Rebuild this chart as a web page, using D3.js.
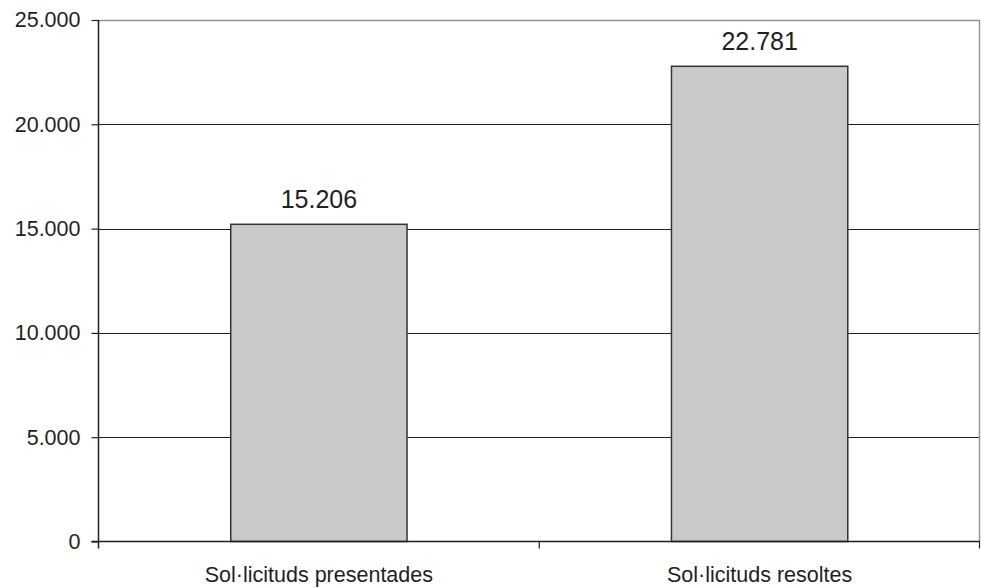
<!DOCTYPE html>
<html>
<head>
<meta charset="utf-8">
<script src="https://cdn.jsdelivr.net/npm/d3@7"></script>
<style>
  html, body { margin: 0; padding: 0; background: #fff; }
  svg { display: block; }
  text { font-family: "Liberation Sans", Arial, sans-serif; fill: #231f20; }
</style>
</head>
<body>
<svg id="chart" width="981" height="588"></svg>
<script>
const categories = ["Sol·licituds presentades", "Sol·licituds resoltes"];
const values = [15206, 22781];
const valueLabels = ["15.206", "22.781"];
const yTicks = [0, 5000, 10000, 15000, 20000, 25000];
const yTickLabels = ["0", "5.000", "10.000", "15.000", "20.000", "25.000"];

(function () {
const svg = d3.select("#chart");
const pLeft = 98.5, pRight = 980, pTop = 20, pBottom = 541.5;

const x = d3.scaleBand().domain(categories).range([pLeft, pRight]).paddingInner(0.6).paddingOuter(0.3);
const y = d3.scaleLinear().domain([0, 25000]).range([pBottom, pTop]);

// gridlines
svg.append("g").selectAll("line").data(yTicks.filter(t => t > 0))
  .join("line")
  .attr("x1", pLeft).attr("x2", pRight)
  .attr("y1", d => Math.round(y(d)) + 0.5).attr("y2", d => Math.round(y(d)) + 0.5)
  .attr("stroke", d => d === 25000 ? "#929497" : "#231f20")
  .attr("stroke-width", d => d === 25000 ? 1.5 : 1);

// right border
svg.append("line")
  .attr("x1", pRight - 0.5).attr("x2", pRight - 0.5)
  .attr("y1", y(25000)).attr("y2", pBottom)
  .attr("stroke", "#929497").attr("stroke-width", 1.5);

// bars
svg.append("g").selectAll("rect").data(values)
  .join("rect")
  .attr("x", (d, i) => x(categories[i]))
  .attr("width", x.bandwidth())
  .attr("y", d => y(d))
  .attr("height", d => pBottom - y(d))
  .attr("fill", "#c8c9cb")
  .attr("stroke", "#333")
  .attr("stroke-width", 1.5);

// value labels
svg.append("g").selectAll("text").data(values)
  .join("text")
  .attr("x", (d, i) => x(categories[i]) + x.bandwidth() / 2)
  .attr("y", d => y(d) - 16)
  .attr("text-anchor", "middle")
  .attr("font-size", 25)
  .text((d, i) => valueLabels[i]);

// y axis
const yAxis = d3.axisLeft(y).tickValues(yTicks)
  .tickFormat((d, i) => yTickLabels[i]).tickSize(7).tickPadding(11);
const gy = svg.append("g").attr("transform", `translate(${pLeft},0)`).call(yAxis);
gy.select(".domain").remove();
gy.selectAll(".tick line").attr("stroke", "#231f20").attr("stroke-width", 1.2);
gy.selectAll(".tick text").attr("font-size", 21.5).attr("font-family", "Liberation Sans, Arial, sans-serif").attr("fill", "#231f20");
svg.append("line").attr("x1", pLeft).attr("x2", pLeft).attr("y1", pTop).attr("y2", pBottom + 7)
  .attr("stroke", "#231f20").attr("stroke-width", 1.5);

// x axis
svg.append("line").attr("x1", pLeft - 7).attr("x2", pRight).attr("y1", pBottom).attr("y2", pBottom)
  .attr("stroke", "#231f20").attr("stroke-width", 1.5);
const mid = (x(categories[0]) + x.bandwidth() + x(categories[1])) / 2;
[mid, pRight - 0.5].forEach(px => {
  svg.append("line").attr("x1", px).attr("x2", px).attr("y1", pBottom).attr("y2", pBottom + 7)
    .attr("stroke", "#231f20").attr("stroke-width", 1.2);
});

svg.append("g").selectAll("text").data(categories)
  .join("text")
  .attr("x", d => x(d) + x.bandwidth() / 2)
  .attr("y", 582)
  .attr("text-anchor", "middle")
  .attr("font-size", 21.5)
  .text(d => d);
})();
</script>
</body>
</html>
